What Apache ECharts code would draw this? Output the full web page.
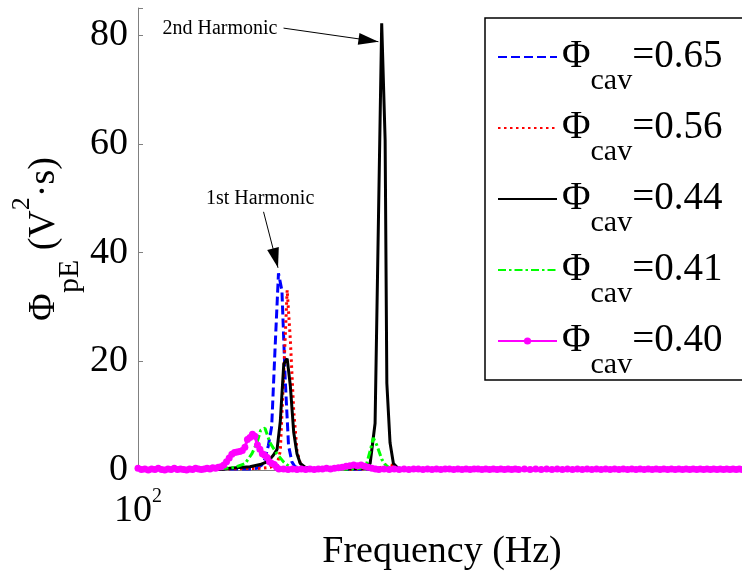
<!DOCTYPE html>
<html><head><meta charset="utf-8">
<script src="https://cdn.jsdelivr.net/npm/echarts@6/dist/echarts.min.js"></script>
<style>html,body{margin:0;padding:0;background:#fff}#c{width:742px;height:576px}</style>
</head><body><div id="c"></div>
<script>
const FONT = "'Liberation Serif','Times New Roman',serif";

// Legend / series names and values
const seriesNames = ['Φcav=0.65', 'Φcav=0.56', 'Φcav=0.44', 'Φcav=0.41', 'Φcav=0.40'];
const legendValues = ['0.65', '0.56', '0.44', '0.41', '0.40'];
const yTicks = [0, 20, 40, 60, 80];
const xTickLabels = { 100: '10^2' };
const xTitle = 'Frequency (Hz)';

// [frequency Hz, Φ_pE V²·s]
const data065 = [[100,0.1],[120,0.1],[130,0.2],[138,0.2],[140.8,0.3],[142.8,0.9],[144.1,2],[145.5,4.5],[146.9,8],[148.3,22],[149.8,36.2],[151.3,33],[152.7,17],[154.2,4.5],[155.7,1.5],[157.1,0.6],[160,0.2],[180,0.1],[200,0.2],[210,0.1],[300,0.1],[590,0.1]];
const data056 = [[100,0.1],[126.6,0.2],[142.1,0.3],[146.2,0.5],[149.2,1],[150.6,3.5],[152.1,18],[153.6,33.1],[155.0,24],[156.5,11],[158.0,3.5],[159.5,1.2],[161.7,0.3],[180,0.1],[200,0.3],[202.3,0.6],[205.4,1],[208.4,0.8],[211.3,0.2],[250,0.1],[590,0.1]];
const data044 = [[100,0.1],[126.6,0.1],[130,0.3],[138.0,0.6],[142.1,1.0],[145.4,1.6],[147.6,2.7],[149.2,3.8],[150.6,9],[152.1,19.5],[153.6,20.5],[155.0,15.5],[156.5,7],[158.0,3],[159.5,1.2],[161.7,0.5],[166.5,0.2],[180,0.2],[192.2,0.3],[195.0,1.2],[197.8,8.6],[201.6,82.2],[203.6,60.7],[204.6,16],[206.5,5],[208.5,1.2],[211.3,0.3],[250,0.1],[590,0.1]];
const data041 = [[100,0.1],[126.6,0.2],[132.2,0.5],[136.1,1.2],[138.8,3],[140.8,5],[142.3,7.3],[144.1,7.7],[146.2,5],[149.1,3],[152.0,1.5],[154.9,0.5],[159.4,0.2],[180,0.1],[189.5,0.3],[193.1,1.2],[195.0,3.5],[196.8,5.9],[198.9,4.5],[201.6,2],[203.6,1],[206.5,0.3],[250,0.1],[590,0.1]];
const data040 = [[100,0.3],[101,0.1],[102,0.2],[103,0.0],[104,0.2],[105,0.1],[106,0.3],[107,0.1],[108,0.0],[109,0.2],[110,0.1],[111,0.3],[112,0.1],[113,0.2],[114,0.1],[115,0.0],[116,0.2],[117,0.1],[118,0.3],[119,0.2],[120,0.1],[121,0.2],[122,0.3],[123,0.2],[124,0.4],[125,0.3],[126,0.5],
[127,0.6],[128,0.9],[129,1.5],[130,2.2],[131,2.9],[132,3.2],[133,3.3],[134,3.4],[135,3.6],[136,4.2],[137,5.6],[138,6.0],[139,6.6],[140,6.2],[141,4.6],[142,3.8],[143,3.0],[144,2.7],[145,2.3],[146,1.5],[147,1.2],[148,1.0],[149,0.5],[150,0.2],
[152,0.2],[154,0.1],[156,0.2],[158,0.1],[160,0.2],[162,0.1],[164,0.2],[166,0.1],[168,0.2],[170,0.2],[172,0.3],[174,0.2],[176,0.3],[178,0.4],[180,0.5],[182,0.7],[184,0.8],[186,0.9],[188,0.8],[190,0.9],[192,0.7],[194,0.5],[196,0.3],[198,0.2],[200,0.1],
[203,0.2],[206,0.1],[209,0.2],[212,0.1],[215,0.2],[218,0.1],[221,0.2],[224,0.2],[227,0.1],[230,0.2],[233,0.1],[236,0.2],[239,0.1],[242,0.2],[245,0.2],[248,0.1],[251,0.2],[254,0.1],[257,0.2],[260,0.1],[263,0.2],[266,0.2],[269,0.1],[272,0.2],[275,0.1],[278,0.2],[281,0.1],[284,0.2],[287,0.1],[290,0.2],[293,0.1],[296,0.2],[299,0.1],
[304,0.2],[309,0.1],[314,0.2],[319,0.1],[324,0.2],[329,0.1],[334,0.2],[339,0.1],[344,0.2],[349,0.1],[354,0.2],[359,0.1],[364,0.2],[369,0.1],[374,0.2],[379,0.1],[384,0.2],[389,0.1],[394,0.2],[399,0.1],[404,0.2],[409,0.1],[414,0.2],[419,0.1],[424,0.2],[429,0.1],[434,0.2],[439,0.1],[444,0.2],[449,0.1],[454,0.2],[459,0.1],[464,0.2],[469,0.1],[474,0.2],[479,0.1],[484,0.2],[489,0.1],[494,0.2],[499,0.1],[504,0.2],[509,0.1],[514,0.2],[519,0.1],[524,0.2],[529,0.1],[534,0.2],[539,0.1],[544,0.2],[549,0.1],[554,0.2],[559,0.1],[564,0.2],[569,0.1],[574,0.2],[579,0.1]];

// Annotations (data coordinates)
const annotationTexts = ['2nd Harmonic', '1st Harmonic'];
const annotationTextAt = [[126.6, 81.1], [142.1, 49.9]];
const arrowFrom = [[152.0, 81.3], [143.5, 47.5]];
const arrowTo = [[199.7, 78.8], [149.6, 37.2]];

const chart = echarts.init(document.getElementById('c'), null, { renderer: 'canvas' });

const richMain = { fontFamily: FONT, fontSize: 38, lineHeight: 40, color: '#000' };

const styles = [
  { color: '#0000ff', width: 3, type: [9, 4] },
  { color: '#ff0000', width: 3, type: [2.5, 3.5] },
  { color: '#000000', width: 3, type: 'solid' },
  { color: '#00ff00', width: 3, type: [8, 3, 2.5, 3] },
  { color: '#ff00ff', width: 3, type: 'solid' }
];
const datas = [data065, data056, data044, data041, data040];

const series = seriesNames.map((name, i) => {
  const s = {
    name: name,
    type: 'line',
    data: datas[i],
    symbol: i === 4 ? 'circle' : 'none',
    symbolSize: 7,
    showSymbol: i === 4,
    showAllSymbol: true,
    itemStyle: { color: styles[i].color },
    lineStyle: { color: styles[i].color, width: styles[i].width, type: styles[i].type },
    animation: false,
    silent: true,
    clip: true
  };
  if (i === 2) {
    s.markLine = {
      silent: true, animation: false,
      symbol: ['none', 'triangle'],
      symbolSize: [12, 20],
      symbolOffset: [[0, 0], [0, 10]],
      lineStyle: { color: '#000', width: 1, type: 'solid' },
      itemStyle: { color: '#000' },
      label: { show: false },
      emphasis: { disabled: true },
      data: arrowFrom.map((f, k) => [{ coord: f }, { coord: arrowTo[k] }])
    };
    s.markPoint = {
      silent: true, animation: false,
      symbol: 'circle', symbolSize: 1,
      itemStyle: { color: 'rgba(0,0,0,0)' },
      label: { show: true, position: 'inside', fontFamily: FONT, fontSize: 20, color: '#000', formatter: p => p.name },
      data: annotationTexts.map((t, k) => ({ name: t, coord: annotationTextAt[k] }))
    };
  }
  return s;
});

chart.setOption({
  backgroundColor: '#fff',
  animation: false,
  grid: { left: 138, right: -4, top: 8, bottom: 106, containLabel: false, outerBoundsMode: 'none' },
  legend: {
    orient: 'vertical', left: 485, top: 18,
    padding: [0, 40, 0, 12],
    borderColor: '#000', borderWidth: 1.5,
    backgroundColor: '#fff',
    itemWidth: 59, itemHeight: 9, itemGap: -7,
    selectedMode: false,
    data: seriesNames.map((n, i) => i === 4 ? { name: n } : { name: n, itemStyle: { opacity: 0 } }),
    formatter: name => '{m|Φ}{s|cav}{m|=' + legendValues[seriesNames.indexOf(name)] + '}',
    textStyle: {
      fontFamily: FONT, color: '#000',
      rich: {
        m: { fontFamily: FONT, fontSize: 39, lineHeight: 40, color: '#000' },
        s: { fontFamily: FONT, fontSize: 30, lineHeight: 10, padding: [48, 0, 0, 0], color: '#000' }
      }
    }
  },
  xAxis: {
    type: 'log', logBase: 10, min: 100, max: 575,
    name: xTitle, nameLocation: 'middle', nameGap: 63, nameMoveOverlap: false,
    nameTextStyle: { fontFamily: FONT, fontSize: 38, color: '#000' },
    axisLine: { lineStyle: { color: '#808080', width: 1 } },
    axisTick: { inside: true, length: 5, lineStyle: { color: '#808080' } },
    splitLine: { show: false },
    minorTick: { show: false },
    axisLabel: {
      margin: 21,
      formatter: v => {
        const t = xTickLabels[Math.round(v)];
        if (!t) return '';
        const parts = t.split('^');
        return '{m|' + parts[0] + '}{p|' + parts[1] + '}';
      },
      rich: {
        m: richMain,
        p: { fontFamily: FONT, fontSize: 20, lineHeight: 20, padding: [0, 0, 28, 0], color: '#000' }
      }
    }
  },
  yAxis: {
    type: 'value', min: 0, max: 85, interval: 20,
    name: '{m|Φ}{s|pE}{m| (V}{p|2}{m|·s)}',
    nameLocation: 'middle', nameGap: 74, nameRotate: 90, nameMoveOverlap: false,
    nameTextStyle: {
      rich: {
        m: richMain,
        s: { fontFamily: FONT, fontSize: 30, lineHeight: 10, padding: [52, 0, 0, 0], color: '#000' },
        p: { fontFamily: FONT, fontSize: 26, lineHeight: 10, padding: [0, 0, 44, 0], color: '#000' }
      }
    },
    axisLine: { show: true, lineStyle: { color: '#808080', width: 1 } },
    axisTick: { show: true, inside: true, length: 5, lineStyle: { color: '#808080' } },
    splitLine: { show: false },
    axisLabel: {
      margin: 10, fontFamily: FONT, fontSize: 38, color: '#000',
      formatter: v => yTicks.includes(v) ? String(v) : ''
    }
  },
  series: series
});
</script></body></html>
